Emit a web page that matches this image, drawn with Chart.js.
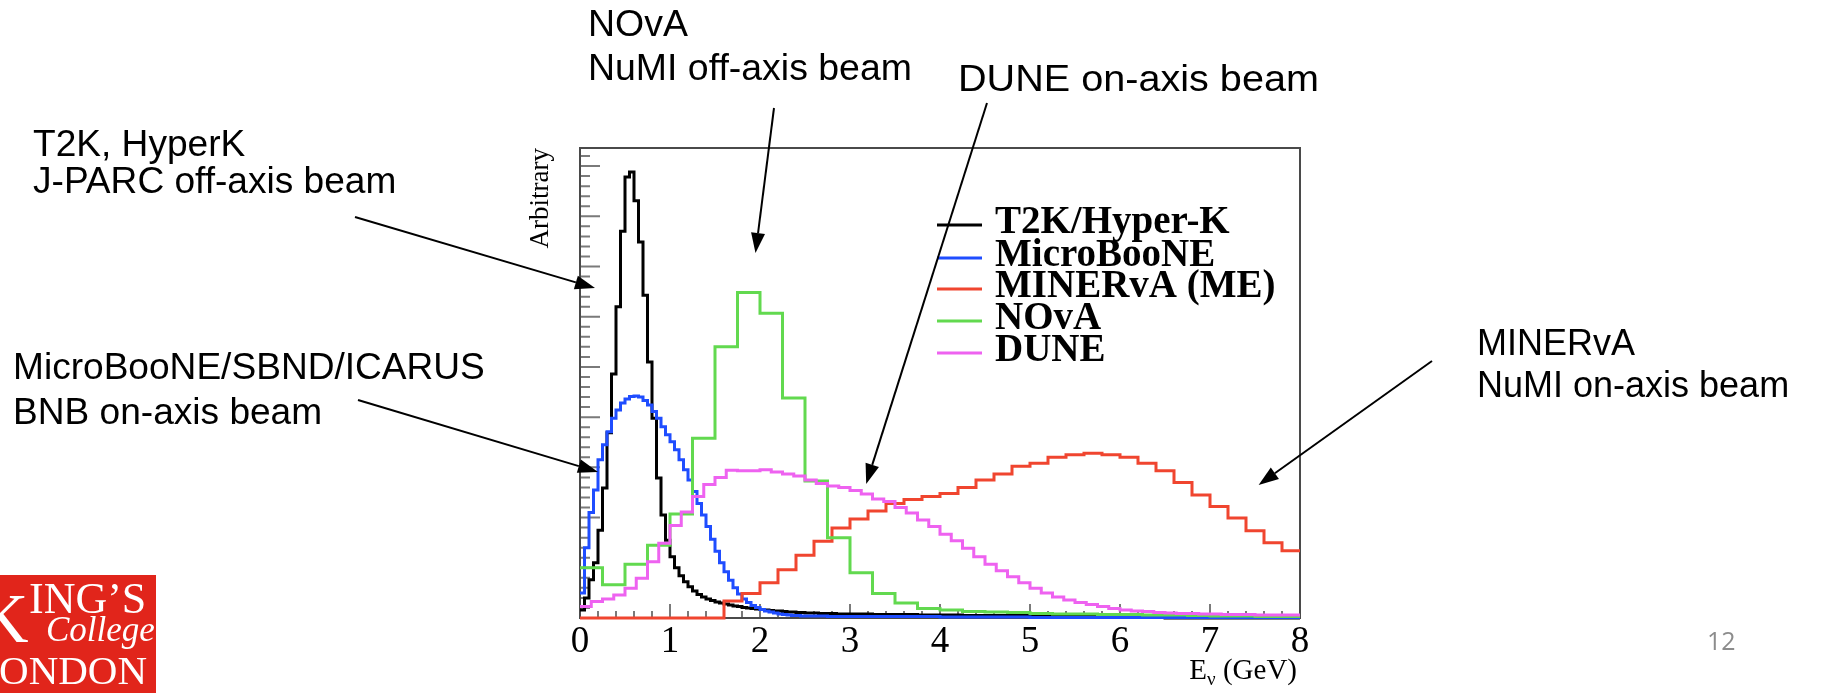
<!DOCTYPE html>
<html>
<head>
<meta charset="utf-8">
<script src="https://cdn.jsdelivr.net/npm/chart.js"></script>
<style>
  html, body { margin: 0; padding: 0; background: #fff; }
  #wrap { width: 1825px; height: 693px; }
</style>
</head>
<body>
<div id="wrap"><canvas id="flux" width="1825" height="693"></canvas></div>
<script>
// neutrino energy axis, GeV
const energyTicks = [0, 1, 2, 3, 4, 5, 6, 7, 8];
const yMax = 9.36; // arbitrary units, one major tick = 1

const seriesNames = ['T2K/Hyper-K', 'MicroBooNE', 'MINERvA (ME)', 'NOvA', 'DUNE'];
const seriesColors = ['#000000', '#1f4dff', '#f0452f', '#62d94f', '#ee62f0'];

// bin widths (GeV) of each histogram
const binWidths = [0.05, 0.05, 0.2, 0.25, 0.125];

// T2K / Hyper-K, 0.05 GeV bins
const t2kFlux = [
  0.16, 0.40, 0.76, 1.10, 1.75, 2.59, 3.69, 4.86, 6.20, 7.70, 8.78, 8.88, 8.31, 7.49, 6.43, 5.10, 3.98, 2.79, 2.05, 1.55,
  1.22, 1.00, 0.84, 0.72, 0.62, 0.54, 0.47, 0.42, 0.38, 0.35, 0.32, 0.30, 0.28, 0.26, 0.24, 0.23, 0.21, 0.20, 0.19, 0.18,
  0.17, 0.16, 0.15, 0.14, 0.14, 0.13, 0.12, 0.12, 0.11, 0.11, 0.10, 0.10, 0.10, 0.09, 0.09, 0.09, 0.09, 0.08, 0.08, 0.08,
  0.08, 0.08, 0.08, 0.08, 0.08, 0.07, 0.07, 0.07, 0.07, 0.07, 0.07, 0.07, 0.07, 0.07, 0.07, 0.06, 0.06, 0.06, 0.06, 0.06,
  0.06, 0.06, 0.06, 0.06, 0.06, 0.05, 0.05, 0.05, 0.05, 0.05, 0.05, 0.05, 0.05, 0.05, 0.05, 0.05, 0.05, 0.05, 0.05, 0.05,
  0.05, 0.05, 0.05, 0.05, 0.05, 0.05, 0.05, 0.05, 0.05, 0.05, 0.04, 0.04, 0.04, 0.04, 0.04, 0.04, 0.04, 0.04, 0.04, 0.04,
  0.04, 0.04, 0.04, 0.04, 0.04, 0.04, 0.04, 0.04, 0.04, 0.04, 0, 0, 0, 0, 0, 0, 0, 0, 0, 0,
  0, 0, 0, 0, 0, 0, 0, 0, 0, 0, 0, 0, 0, 0, 0, 0, 0, 0, 0, 0
];

// MicroBooNE (BNB), 0.05 GeV bins
const microbooneFlux = [
  0.50, 1.40, 2.10, 2.55, 3.15, 3.45, 3.71, 3.98, 4.14, 4.28, 4.36, 4.41, 4.42, 4.40, 4.33, 4.24, 4.11, 3.98, 3.81, 3.65,
  3.51, 3.35, 3.15, 2.95, 2.75, 2.52, 2.28, 2.05, 1.82, 1.57, 1.33, 1.10, 0.92, 0.75, 0.60, 0.48, 0.38, 0.31, 0.25, 0.21,
  0.17, 0.14, 0.12, 0.10, 0.08, 0.07, 0.06, 0.05, 0.05, 0.04, 0.04, 0.04, 0.04, 0.04, 0.04, 0.03, 0.03, 0.03, 0.03, 0.03,
  0.03, 0.03, 0.03, 0.03, 0.03, 0.03, 0.03, 0.03, 0.03, 0.03, 0.03, 0.03, 0.03, 0.03, 0.03, 0.03, 0.03, 0.03, 0.03, 0.03,
  0.02, 0.02, 0.02, 0.02, 0.02, 0.02, 0.02, 0.02, 0.02, 0.02, 0.02, 0.02, 0.02, 0.02, 0.02, 0.02, 0.02, 0.02, 0.02, 0.02,
  0.01, 0.01, 0.01, 0.01, 0.01, 0.01, 0.01, 0.01, 0.01, 0.01, 0.01, 0.01, 0.01, 0.01, 0.01, 0.01, 0.01, 0.01, 0.01, 0.01,
  0.01, 0.01, 0.01, 0.01, 0.01, 0.01, 0.01, 0.01, 0.01, 0.01, 0.01, 0.01, 0.01, 0.01, 0.01, 0.01, 0.01, 0.01, 0.01, 0.01,
  0.01, 0.01, 0.01, 0.01, 0.01, 0.01, 0.01, 0.01, 0.01, 0.01, 0.01, 0.01, 0.01, 0.01, 0.01, 0.01, 0.01, 0.01, 0.01, 0.01
];

// MINERvA medium energy, 0.2 GeV bins
const minervaFlux = [
  0, 0, 0, 0, 0, 0, 0, 0, 0.34, 0.49,
  0.70, 0.96, 1.25, 1.53, 1.79, 1.97, 2.13, 2.28, 2.36, 2.42,
  2.48, 2.60, 2.75, 2.87, 3.02, 3.08, 3.20, 3.25, 3.28, 3.25,
  3.20, 3.08, 2.93, 2.70, 2.45, 2.22, 1.99, 1.74, 1.50, 1.34
];

// NOvA, 0.25 GeV bins
const novaFlux = [
  1.00, 0.66, 1.07, 1.45, 2.07, 3.58, 5.40, 6.48, 6.07, 4.38, 2.73, 1.60, 0.90, 0.49, 0.30, 0.19,
  0.16, 0.13, 0.12, 0.11, 0.09, 0.08, 0.08, 0.07, 0.07, 0.06, 0.06, 0.05, 0.04, 0.04, 0.03, 0.03
];

// DUNE, 0.125 GeV bins
const duneFlux = [
  0.23, 0.33, 0.38, 0.46, 0.59, 0.79, 1.12, 1.49, 1.84, 2.11, 2.42, 2.66, 2.80, 2.94, 2.93, 2.93,
  2.95, 2.91, 2.87, 2.83, 2.75, 2.68, 2.63, 2.60, 2.54, 2.47, 2.37, 2.32, 2.20, 2.09, 1.95, 1.82,
  1.67, 1.54, 1.39, 1.22, 1.07, 0.94, 0.82, 0.70, 0.59, 0.50, 0.42, 0.36, 0.31, 0.27, 0.23, 0.19,
  0.16, 0.14, 0.13, 0.11, 0.10, 0.09, 0.09, 0.08, 0.08, 0.07, 0.07, 0.07, 0.06, 0.06, 0.06, 0.06
];

const allFlux = [t2kFlux, microbooneFlux, minervaFlux, novaFlux, duneFlux];

// slide annotations: text position in page pixels, arrow tip in data units
// gap = line spacing, sx = horizontal stretch of the slide text
const notes = [
  { lines: ['NOvA', 'NuMI off-axis beam'], x: 588, y: 36, gap: 44, sx: 1.04, tail: [774, 108], tip: [1.95, 7.27] },
  { lines: ['DUNE on-axis beam'], x: 958, y: 91, gap: 0, sx: 1.10, tail: [987, 103], tip: [3.18, 2.67] },
  { lines: ['T2K, HyperK', 'J-PARC off-axis beam'], x: 33, y: 156, gap: 37, sx: 1.03, tail: [355, 217], tip: [0.167, 6.57] },
  { lines: ['MicroBooNE/SBND/ICARUS', 'BNB on-axis beam'], x: 13, y: 379, gap: 45, sx: 1.03, tail: [358, 400], tip: [0.2, 2.91] },
  { lines: ['MINERvA', 'NuMI on-axis beam'], x: 1477, y: 355, gap: 42, sx: 1.0, tail: [1432, 361], tip: [7.54, 2.65] }
];

// histogram -> points at bin edges, drawn as steps
function toSteps(values, width) {
  const pts = values.map((v, i) => ({ x: i * width, y: v }));
  pts.push({ x: values.length * width, y: values[values.length - 1] });
  return pts;
}

function arrow(ctx, x1, y1, x2, y2) {
  const ang = Math.atan2(y2 - y1, x2 - x1);
  const len = 20, half = 7;
  const bx = x2 - len * Math.cos(ang), by = y2 - len * Math.sin(ang);
  ctx.beginPath();
  ctx.moveTo(x1, y1);
  ctx.lineTo(bx, by);
  ctx.stroke();
  ctx.beginPath();
  ctx.moveTo(x2, y2);
  ctx.lineTo(bx - half * Math.sin(ang), by + half * Math.cos(ang));
  ctx.lineTo(bx + half * Math.sin(ang), by - half * Math.cos(ang));
  ctx.closePath();
  ctx.fill();
}

function stretchedText(ctx, text, x, y, sx) {
  ctx.save();
  ctx.translate(x, y);
  ctx.scale(sx, 1);
  ctx.fillText(text, 0, 0);
  ctx.restore();
}

const rootFrame = {
  id: 'rootFrame',
  beforeDatasetsDraw(chart) {
    const { ctx, chartArea: a, scales: { x, y } } = chart;
    ctx.save();
    ctx.strokeStyle = '#7a7a7a';
    ctx.lineWidth = 2;
    ctx.beginPath();
    for (let k = 0; k <= 40; k++) {
      const px = x.getPixelForValue(k * 0.2);
      const len = k % 5 === 0 ? 14 : 7;
      ctx.moveTo(px, a.bottom);
      ctx.lineTo(px, a.bottom - len);
    }
    for (let k = 0; k * 0.2 <= yMax; k++) {
      const py = y.getPixelForValue(k * 0.2);
      const len = k % 5 === 0 ? 20 : 10;
      ctx.moveTo(a.left, py);
      ctx.lineTo(a.left + len, py);
    }
    ctx.stroke();
    ctx.strokeStyle = '#4a4a4a';
    ctx.strokeRect(a.left, a.top, a.width, a.height);
    ctx.restore();
  },
  afterDraw(chart) {
    const { ctx, chartArea: a, scales: { x, y } } = chart;
    ctx.save();

    // legend
    const lx = 937, tx = 995, rows = [225, 258, 289, 321, 353];
    ctx.font = 'bold 39px "Liberation Serif"';
    ctx.textBaseline = 'alphabetic';
    ctx.textAlign = 'left';
    chart.data.datasets.forEach((ds, i) => {
      ctx.strokeStyle = ds.borderColor;
      ctx.lineWidth = 3;
      ctx.beginPath();
      ctx.moveTo(lx, rows[i]);
      ctx.lineTo(lx + 45, rows[i]);
      ctx.stroke();
      ctx.fillStyle = '#000';
      ctx.fillText(ds.label, tx, rows[i] + 8);
    });

    // y title
    ctx.save();
    ctx.translate(548, a.top);
    ctx.rotate(-Math.PI / 2);
    ctx.font = '27px "Liberation Serif"';
    ctx.textAlign = 'right';
    ctx.fillStyle = '#000';
    ctx.fillText('Arbitrary', 0, 0);
    ctx.restore();

    // x title  E_nu (GeV), right aligned to the axis end
    ctx.fillStyle = '#000';
    ctx.textAlign = 'left';
    const big = '29px "Liberation Serif"', small = '19px "Liberation Serif"';
    ctx.font = big;
    const wE = ctx.measureText('E').width, wG = ctx.measureText(' (GeV)').width;
    ctx.font = small;
    const wNu = ctx.measureText('\u03bd').width;
    let px = a.right - 3 - (wE + wNu + wG);
    ctx.font = big; ctx.fillText('E', px, 679); px += wE;
    ctx.font = small; ctx.fillText('\u03bd', px, 685); px += wNu;
    ctx.font = big; ctx.fillText(' (GeV)', px, 679);

    // annotations with arrows
    ctx.font = '36px "Liberation Sans"';
    ctx.fillStyle = '#000';
    ctx.strokeStyle = '#000';
    ctx.lineWidth = 2;
    notes.forEach(n => {
      n.lines.forEach((t, i) => stretchedText(ctx, t, n.x, n.y + i * n.gap, n.sx));
      arrow(ctx, n.tail[0], n.tail[1], x.getPixelForValue(n.tip[0]), y.getPixelForValue(n.tip[1]));
    });

    // King's College London logo block
    ctx.fillStyle = '#e1251b';
    ctx.fillRect(0, 575, 156, 118);
    ctx.save();
    ctx.beginPath();
    ctx.rect(0, 575, 156, 118);
    ctx.clip();
    ctx.fillStyle = '#fff';
    ctx.font = '70px "Liberation Serif"';
    ctx.fillText('K', -22, 642);
    ctx.font = '44px "Liberation Serif"';
    ctx.fillText("ING\u2019S", 29, 613);
    ctx.font = 'italic 35px "Liberation Serif"';
    ctx.fillText('College', 46, 641);
    ctx.font = '41px "Liberation Serif"';
    ctx.fillText('LONDON', -26, 684);
    ctx.restore();

    // slide number
    ctx.fillStyle = '#8c8c8c';
    ctx.font = '25px "Open Sans"';
    ctx.fillText('12', 1707, 650);
    ctx.restore();
  }
};

const datasets = allFlux.map((vals, i) => ({
  label: seriesNames[i],
  data: toSteps(vals, binWidths[i]),
  borderColor: seriesColors[i],
  borderWidth: 3,
  pointRadius: 0,
  fill: false,
  stepped: 'before',
  clip: 4,
  order: allFlux.length - i
}));

new Chart(document.getElementById('flux'), {
  type: 'line',
  data: { datasets },
  options: {
    responsive: false,
    animation: false,
    devicePixelRatio: 1,
    layout: { padding: { left: 540, right: 525, top: 148, bottom: 0 } },
    plugins: { legend: { display: false }, tooltip: { enabled: false } },
    scales: {
      x: {
        type: 'linear',
        min: 0,
        max: 8,
        afterBuildTicks: s => { s.ticks = energyTicks.map(v => ({ value: v })); },
        afterFit: s => { s.height = 75; s.paddingLeft = 0; s.paddingRight = 0; },
        ticks: { color: '#000', padding: 2, font: { family: '"Liberation Serif"', size: 37 } },
        grid: { drawOnChartArea: false, drawTicks: false },
        border: { color: '#4a4a4a', width: 2 }
      },
      y: {
        min: 0,
        max: yMax,
        afterFit: s => { s.width = 40; },
        ticks: { display: false },
        grid: { drawOnChartArea: false, drawTicks: false },
        border: { color: '#4a4a4a', width: 2 }
      }
    }
  },
  plugins: [rootFrame]
});
</script>
</body>
</html>
